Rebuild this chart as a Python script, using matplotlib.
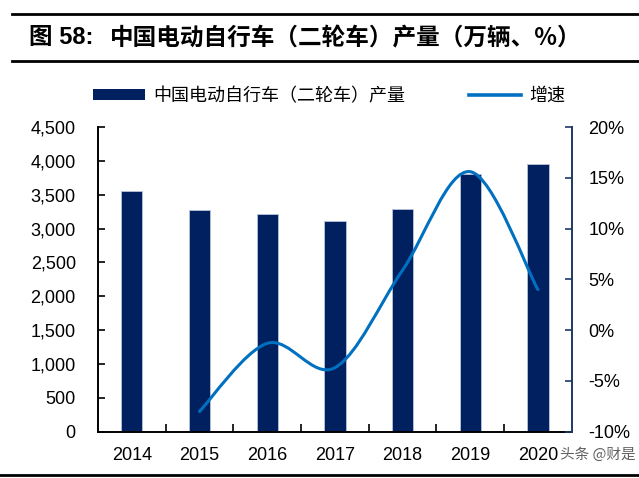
import numpy as np
import matplotlib.pyplot as plt
from matplotlib.path import Path
from matplotlib.patches import PathPatch
from matplotlib.lines import Line2D
from matplotlib.patches import Patch

plt.rcParams['font.family'] = ['Liberation Sans', 'Noto Sans CJK SC', 'DejaVu Sans']

years = ['2014', '2015', '2016', '2017', '2018', '2019', '2020']
output = [3555, 3275, 3220, 3108, 3285, 3806, 3959]
growth_years = ['2015', '2016', '2017', '2018', '2019', '2020']
growth = [-8.0, -1.3, -3.7, 5.9, 15.6, 4.0]

bar_color = '#002060'
line_color = '#0070C0'

W, H = 639, 478
fig = plt.figure(figsize=(W / 100, H / 100), dpi=100)
ax = fig.add_axes([98 / W, 1 - 431.7 / H, 473.7 / W, 304.7 / H])
ax2 = ax.twinx()

x = np.arange(len(years))
ax.bar(x, output, width=0.315, color=bar_color, edgecolor='#B8C4DA', linewidth=0.6, zorder=2)
ax.set_xlim(-0.5, len(years) - 0.5)
ax.set_ylim(0, 4500)
ax.set_yticks(np.arange(0, 4501, 500))
ax.set_yticklabels([f'{v:,}' for v in range(0, 4501, 500)])
ax.set_xticks(x)
ax.set_xticklabels(years)
ax.set_xticks(np.arange(0.5, len(years) - 0.5), minor=True)
ax.tick_params(axis='x', which='major', length=0, pad=11, labelsize=13)
ax.tick_params(axis='x', which='minor', direction='in', length=6, width=1.2, color='black')
ax.tick_params(axis='y', direction='in', length=5, width=1.2, pad=16, labelsize=13)
for s in ['left', 'bottom']:
    ax.spines[s].set_linewidth(1.4)
ax.spines['top'].set_visible(False)
ax.spines['right'].set_visible(False)

# smoothed growth line (Bezier through the points, like Excel smoothing)
gx = np.array([years.index(y) for y in growth_years], dtype=float)
gy = np.array(growth)
pts = np.column_stack([gx, gy])
verts = [pts[0]]
codes = [Path.MOVETO]
n = len(pts)
for i in range(n - 1):
    p0 = pts[i - 1] if i > 0 else pts[i]
    p1 = pts[i]
    p2 = pts[i + 1]
    p3 = pts[i + 2] if i + 2 < n else pts[i + 1]
    c1 = p1 + (p2 - p0) / 6.0
    c2 = p2 - (p3 - p1) / 6.0
    verts += [c1, c2, p2]
    codes += [Path.CURVE4] * 3
ax2.add_patch(PathPatch(Path(verts, codes), fill=False, edgecolor=line_color,
                        linewidth=2.2, capstyle='round', zorder=3))
ax2.set_ylim(-10, 20)
ax2.set_yticks(np.arange(-10, 21, 5))
ax2.set_yticklabels([f'{v}%' for v in range(-10, 21, 5)])
ax2.tick_params(axis='y', direction='in', length=5, width=1.2, pad=12, labelsize=13,
                color='#1F3864')
ax2.spines['right'].set_color('#1F3864')
ax2.spines['right'].set_linewidth(1.4)
for s in ['top', 'left', 'bottom']:
    ax2.spines[s].set_visible(False)

# header lines and title
fig.add_artist(Line2D([12 / W, 1], [1 - 14 / H] * 2, color='black', linewidth=2.0))
fig.add_artist(Line2D([12 / W, 1], [1 - 61 / H] * 2, color='black', linewidth=2.0))
fig.add_artist(Line2D([0, 1], [1 - 475 / H] * 2, color='black', linewidth=2.0))
fig.text(29 / W, 1 - 38 / H, '图 58:', fontsize=17, fontweight='bold', va='center',
         ha='left', family=['Liberation Sans', 'Noto Sans CJK SC'])
fig.text(110 / W, 1 - 38 / H, '中国电动自行车（二轮车）产量（万辆、%）',
         fontsize=17, fontweight='bold', va='center', ha='left',
         family=['Noto Sans CJK SC'])

handles = [Patch(facecolor=bar_color, edgecolor='none'),
           Line2D([], [], color=line_color, linewidth=2.6)]
fig.legend(handles, ['中国电动自行车（二轮车）产量', '增速'], loc='center',
           bbox_to_anchor=(329 / W, 1 - 96 / H), ncol=2, frameon=False,
           prop={'family': 'Noto Sans CJK SC', 'size': 13, 'weight': 'light'},
           handlelength=2.9, handleheight=0.6, columnspacing=3.5, handletextpad=0.45)

fig.text(636 / W, 1 - 455 / H, '头条 @财是', fontsize=10.5, color='#606060',
         ha='right', va='center', family=['Noto Sans CJK SC'])

fig.savefig('out.png', dpi=100)
